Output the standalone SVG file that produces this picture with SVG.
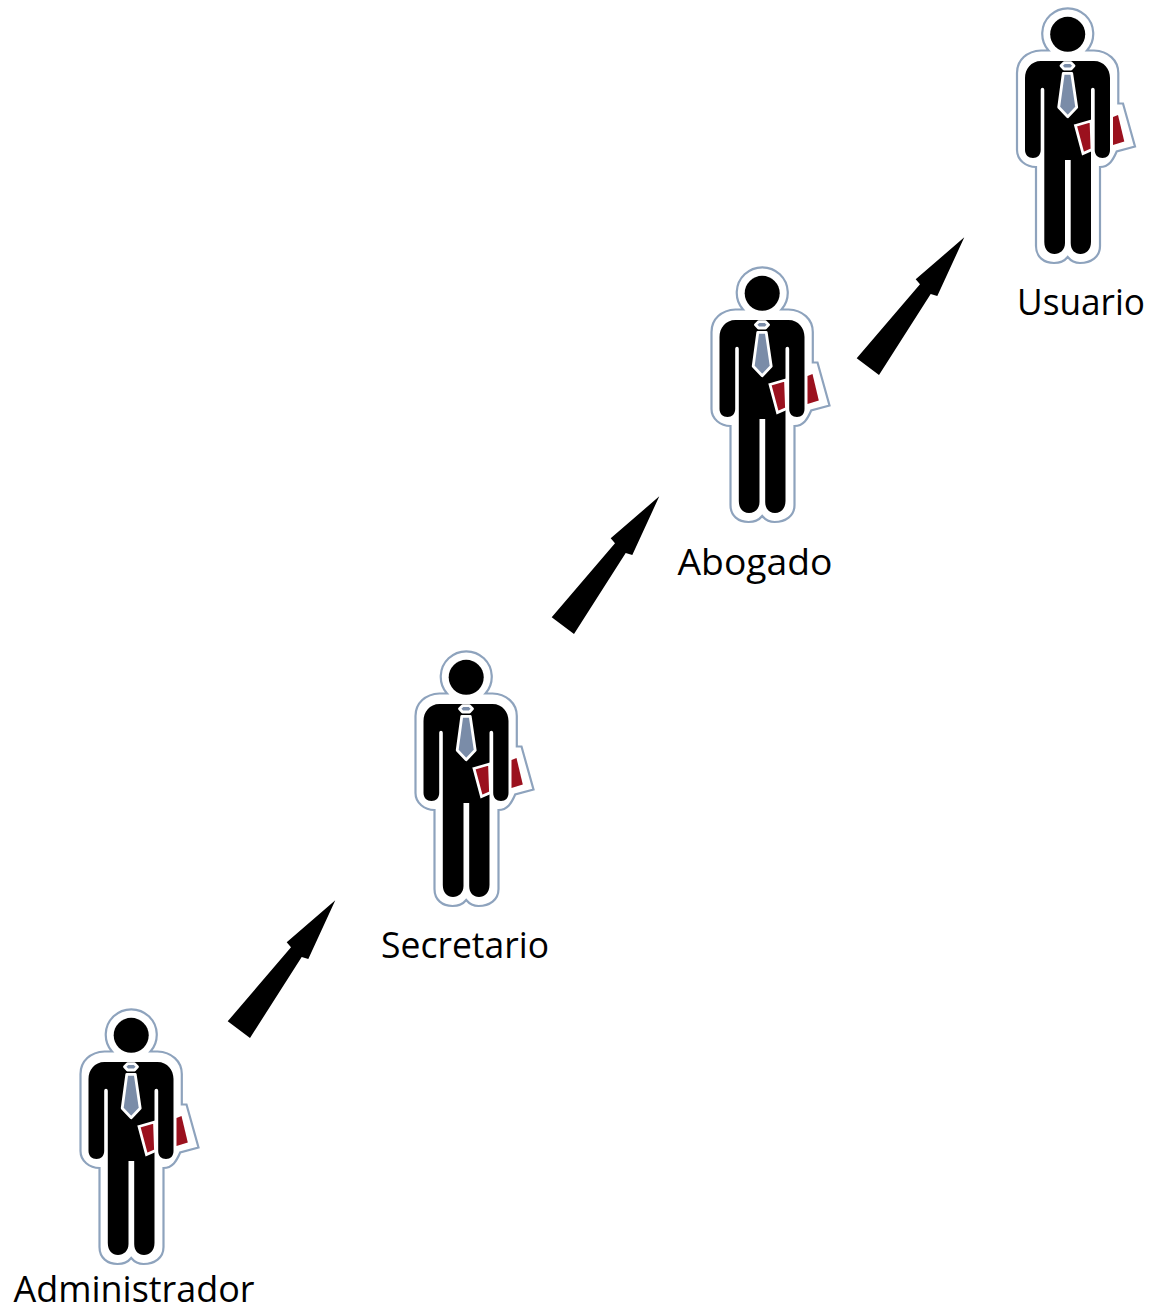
<svg xmlns="http://www.w3.org/2000/svg" width="1165" height="1313" viewBox="0 0 1165 1313">
<style>
.lbl{font-family:"Open Sans","Noto Sans",sans-serif;font-size:36px;fill:#000;text-anchor:middle}
.arrow{fill:#000}
</style>
<defs>
<g id="person">
<path d="M48.500 50.500A25.500 25.500 0 1 1 87 50.500H94C108 51 118.300 60 118.300 73V103.500H123L135 146.500L116.700 151.500C113 160 109 167 100 167V246C100 257 91 263 80 263C75 263 71 261 67.700 257C64.500 261 60 263 54 263C44 263 36 257 36 246V167C26 167 17 160 17 150V73C17 60 27 51 41 50.500Z" fill="#fff" stroke="#8ea3bd" stroke-width="2.200"/>
<circle cx="67.700" cy="34.300" r="17.500" fill="#000"/>
<path d="M41 61H94C104 61 110 69 110 78V150C110 155 107 158 102.500 158C98 158 94.700 155 94.700 150V90C94.700 87 91 87 91 90V242C91 250 86 254 80.500 254C75 254 70.700 250 70.700 243V160H65V243C65 250 60 254 54.500 254C49 254 44.300 250 44.300 242V90C44.300 87 40.700 87 40.700 90V150C40.700 155 37.500 158 33 158C28.500 158 25 155 25 150V78C25 69 31 61 41 61Z" fill="#000"/>
<path d="M63.300 73.300H71.700L76.700 107.300L67.700 116.700L58.700 107.300Z" fill="#7a8ca8" stroke="#fff" stroke-width="2.800" stroke-linejoin="round"/>
<path d="M61 65.700L64 62.700H71L74 65.700L71 69H64Z" fill="#7a8ca8" stroke="#fff" stroke-width="2.800" stroke-linejoin="round"/>
<path d="M75.500 125.500L91 121L92 149.500L83 153.500Z" fill="#9b111e" stroke="#fff" stroke-width="2.800"/>
<path d="M113 117L118 115L124.300 141.500L113 145Z" fill="#9b111e"/>
</g>
<path id="arr" d="M964.300 237.300L937.300 296L930.700 294L879 375L856.700 358.300L920 284.300L915.700 279.300Z"/>
</defs>
<g id="connectors" class="arrow">
<use href="#arr" x="-629" y="663"/>
<use href="#arr" x="-305" y="259"/>
<use href="#arr"/>
</g>
<g id="administrador"><use href="#person" x="63.500" y="1001"/><text class="lbl" x="134" y="1302" textLength="241" lengthAdjust="spacingAndGlyphs">Administrador</text></g>
<g id="secretario"><use href="#person" x="398.500" y="643"/><text class="lbl" x="465" y="958" textLength="168" lengthAdjust="spacingAndGlyphs">Secretario</text></g>
<g id="abogado"><use href="#person" x="694.500" y="259"/><text class="lbl" x="755" y="575" textLength="155" lengthAdjust="spacingAndGlyphs">Abogado</text></g>
<g id="usuario"><use href="#person" x="1000" y="0"/><text class="lbl" x="1081" y="315" textLength="128" lengthAdjust="spacingAndGlyphs">Usuario</text></g>
</svg>
